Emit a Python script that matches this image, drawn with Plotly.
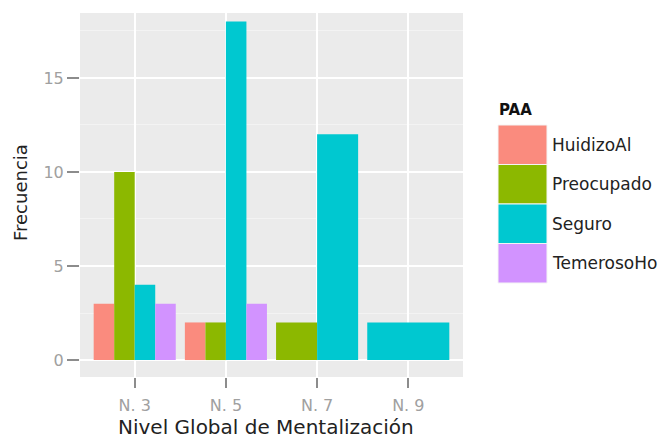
import plotly.graph_objects as go

categories = ["N. 3", "N. 5", "N. 7", "N. 9"]
groups = ["HuidizoAl", "Preocupado", "Seguro", "TemerosoHo"]
colors = ["#FA8B7E", "#8CB800", "#00C8D0", "#D293FF"]
# values per group per category (None = group absent)
values = {
    "HuidizoAl":  [3, 2, None, None],
    "Preocupado": [10, 2, 2, None],
    "Seguro":     [4, 18, 12, 2],
    "TemerosoHo": [3, 3, None, None],
}
y_ticks = [0, 5, 10, 15]
x_title = "Nivel Global de Mentalización"
y_title = "Frecuencia"
legend_title = "PAA"

W, H = 670, 438
L, R, T, B = 80, 463, 13, 377  # plot area in pixels

fig = go.Figure()

# ggplot-like dodge: width 0.9 shared among groups present in each category
present = [[g for g in groups if values[g][i] is not None] for i in range(len(categories))]
for gi, g in enumerate(groups):
    xs, ys, ws = [], [], []
    for ci in range(len(categories)):
        v = values[g][ci]
        if v is None:
            continue
        n = len(present[ci])
        j = present[ci].index(g)
        w = 0.9 / n
        xs.append(ci + 1 - 0.45 + (j + 0.5) * w)
        ys.append(v)
        ws.append(w)
    fig.add_trace(go.Bar(x=xs, y=ys, width=ws, name=g, marker=dict(color=colors[gi], line=dict(width=0)),
                         showlegend=False, hoverinfo="skip"))

font_fam = "DejaVu Sans"

fig.update_layout(
    width=W, height=H,
    margin=dict(l=L, r=W - R, t=T, b=H - B),
    barmode="overlay",
    paper_bgcolor="white",
    plot_bgcolor="#EBEBEB",
    font=dict(family=font_fam, color="#222222"),
    xaxis=dict(
        range=[0.4, 4.6], automargin=False,
        tickvals=[1, 2, 3, 4], ticktext=categories,
        showgrid=True, gridcolor="white", gridwidth=1.5,
        zeroline=False, showline=False,
        ticks="outside", ticklen=10, tickcolor="#8C8C8C", tickwidth=1.5,
        ticklabelstandoff=4,
        tickfont=dict(size=16, color="#A0A0A0", family=font_fam),
    ),
    yaxis=dict(
        range=[-0.9, 18.45], automargin=False,
        tickvals=y_ticks,
        showgrid=True, gridcolor="white", gridwidth=1.5,
        zeroline=False, showline=False,
        ticks="outside", ticklen=12, tickcolor="#8C8C8C", tickwidth=1.5,
        tickfont=dict(size=16, color="#A0A0A0", family=font_fam),
        minor=dict(tickvals=[2.5, 7.5, 12.5, 17.5], showgrid=True, gridcolor="#F3F3F3", gridwidth=0.8, ticks=""),
    ),
)

def px_x(p):
    return (p - L) / (R - L)

def px_y(p):
    return (B - p) / (B - T)

# axis titles
fig.add_annotation(x=px_x(266), y=px_y(427), xref="paper", yref="paper", text=x_title,
                   showarrow=False, xanchor="center", yanchor="middle",
                   font=dict(size=20, color="#222222", family=font_fam))
fig.add_annotation(x=px_x(20), y=px_y(193), xref="paper", yref="paper", text=y_title, textangle=-90,
                   showarrow=False, xanchor="center", yanchor="middle",
                   font=dict(size=18, color="#222222", family=font_fam))

# manual ggplot-style legend
fig.add_annotation(x=px_x(497), y=px_y(110), xref="paper", yref="paper", text="<b>" + legend_title + "</b>",
                   showarrow=False, xanchor="left", yanchor="middle",
                   font=dict(size=15, color="#111111", family=font_fam))
key_top, key_h = 125, 39.5
for gi, g in enumerate(groups):
    y0 = key_top + gi * key_h
    fig.add_shape(type="rect", xref="paper", yref="paper",
                  x0=px_x(498), x1=px_x(547), y0=px_y(y0 + key_h), y1=px_y(y0),
                  fillcolor=colors[gi], line=dict(color="#F4F4F4", width=1), layer="above")
    fig.add_annotation(x=px_x(550), y=px_y(y0 + key_h / 2), xref="paper", yref="paper", text=g,
                       showarrow=False, xanchor="left", yanchor="middle",
                       font=dict(size=17, color="#222222", family=font_fam))

fig.write_html("out.html", config={"displayModeBar": False},
               post_script="document.body.style.margin='0px';")
